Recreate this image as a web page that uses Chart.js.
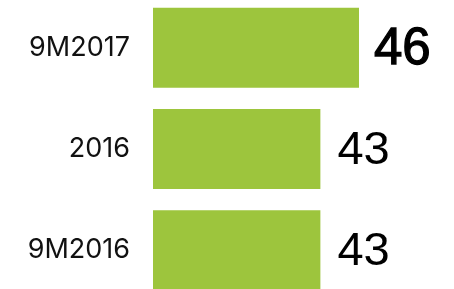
<!DOCTYPE html>
<html>
<head>
<meta charset="utf-8">
<script src="https://cdn.jsdelivr.net/npm/chart.js@4"></script>
<style>
    html, body { margin: 0; padding: 0; background: #fff; overflow: hidden; }
    #wrap { position: absolute; left: 0; top: -3px; width: 454px; height: 304px; }
</style>
</head>
<body>
<div id="wrap"><canvas id="chart"></canvas></div>
<script>
// data
const categories = ['9M2017', '2016', '9M2016'];
const values = [46, 43, 43];
const highlighted = [true, false, false]; // first value is shown heavier

// category names on the left + big numbers next to each bar
const barText = {
    id: 'barText',
    afterDatasetsDraw(chart) {
        const ctx = chart.ctx;
        const meta = chart.getDatasetMeta(0);
        const left = chart.chartArea.left;
        ctx.save();
        ctx.textBaseline = 'middle';
        meta.data.forEach((bar, i) => {
            // category label
            ctx.fillStyle = '#111';
            ctx.textAlign = 'right';
            ctx.font = '27px Inter, "Open Sans", sans-serif';
            ctx.fillText(chart.data.labels[i], left - 23, bar.y);

            // value
            const big = highlighted[i];
            ctx.fillStyle = '#000';
            ctx.textAlign = 'left';
            ctx.font = (big ? '51px' : '47px') + ' "Liberation Sans", Arial, sans-serif';
            const tx = bar.x + (big ? 15 : 17);
            ctx.fillText(String(values[i]), tx, bar.y + 2);
            if (big) {
                ctx.strokeStyle = '#000';
                ctx.lineWidth = 1.3;
                ctx.strokeText(String(values[i]), tx, bar.y + 2);
            }
        });
        ctx.restore();
    }
};

new Chart(document.getElementById('chart'), {
    type: 'bar',
    data: {
        labels: categories,
        datasets: [{
            data: values,
            backgroundColor: '#9dc53d',
            borderWidth: 0,
            categoryPercentage: 1,
            barPercentage: 0.79
        }]
    },
    options: {
        indexAxis: 'y',
        responsive: true,
        maintainAspectRatio: false,
        animation: false,
        layout: { padding: { left: 0, right: 43.5, top: 0, bottom: 0 } },
        plugins: {
            legend: { display: false },
            tooltip: { enabled: false }
        },
        scales: {
            x: {
                display: false,
                min: 30,
                max: 50
            },
            y: {
                grid: { display: false },
                border: { display: false },
                ticks: { display: false },
                afterFit(scale) { scale.width = 153; }
            }
        }
    },
    plugins: [barText]
});
</script>
</body>
</html>
